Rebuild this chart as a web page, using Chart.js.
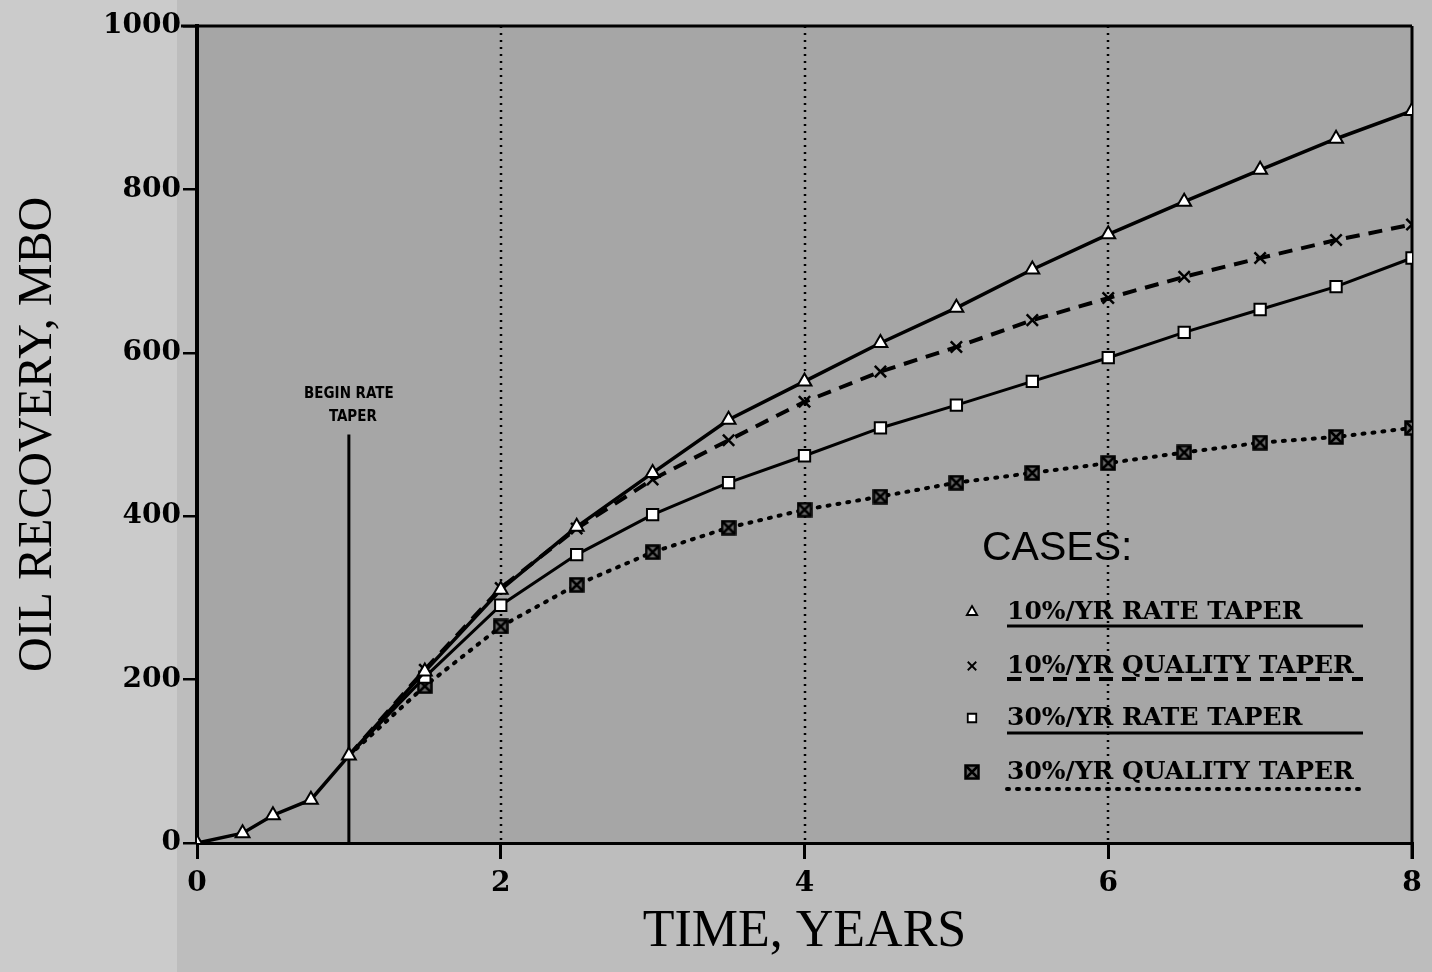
<!DOCTYPE html>
<html>
<head>
<meta charset="utf-8">
<script src="https://cdn.jsdelivr.net/npm/chart.js@4/dist/chart.umd.min.js"></script>
<style>
  html, body { margin: 0; padding: 0; background: #bdbdbd; overflow: hidden; }
  #wrap { width: 1432px; height: 972px; position: relative; }
  canvas { display: block; }
</style>
</head>
<body>
<div id="wrap"><canvas id="c" width="1432" height="972"></canvas></div>
<script>
// Cumulative oil recovery (MBO) versus time (years) for four taper cases
const years = [0, 0.3, 0.5, 0.75, 1, 1.5, 2, 2.5, 3, 3.5, 4, 4.5, 5, 5.5, 6, 6.5, 7, 7.5, 8];
const rateTaper10    = [0, 12, 34, 53, 107, 210, 310, 387, 453, 518, 565, 612, 655, 702, 745, 785, 824, 862, 896];
const qualityTaper10 = [null, null, null, null, 107, 212, 312, 385, 445, 493, 540, 577, 607, 640, 667, 693, 716, 738, 757];
const rateTaper30    = [null, null, null, null, 107, 203, 291, 353, 402, 441, 474, 508, 536, 565, 594, 625, 653, 681, 716];
const qualityTaper30 = [null, null, null, null, 107, 192, 265, 316, 356, 386, 408, 424, 441, 453, 465, 478, 490, 497, 508];

const caseLabels = ['10%/YR RATE TAPER', '10%/YR QUALITY TAPER', '30%/YR RATE TAPER', '30%/YR QUALITY TAPER'];
const xTickValues = [0, 2, 4, 6, 8];
const yTickValues = [0, 200, 400, 600, 800, 1000];
const gridYears = [2, 4, 6];
const taperStartYear = 1;
const taperLineTop = 500;
const taperNote = ['BEGIN RATE', 'TAPER'];

const toPoints = vals => years.map((t, i) => ({ x: t, y: vals[i] }));

// boxed-X marker for the 30%/yr quality taper case
function boxedX(size) {
  const c = document.createElement('canvas');
  c.width = size; c.height = size;
  const g = c.getContext('2d');
  g.fillStyle = '#6a6a6a';
  g.fillRect(1, 1, size - 2, size - 2);
  g.strokeStyle = '#000';
  g.lineWidth = 2.5;
  g.strokeRect(1.5, 1.5, size - 3, size - 3);
  g.beginPath();
  g.moveTo(2, 2); g.lineTo(size - 2, size - 2);
  g.moveTo(size - 2, 2); g.lineTo(2, size - 2);
  g.stroke();
  return c;
}
const boxedMarker = boxedX(16);

// the taper cases share the start-up curve; hide their first (shared) marker
const hideShared = r => ctx => (ctx.dataIndex === 4 ? 0 : r);

const serif = 'DejaVu Serif';

const styles = [
  { pointStyle: 'triangle', borderDash: [], borderWidth: 3.5, pointRadius: 8, pointBackgroundColor: '#ffffff', pointBorderWidth: 2 },
  { pointStyle: 'crossRot', borderDash: [14, 9], borderWidth: 4, pointRadius: hideShared(8), pointBackgroundColor: '#000', pointBorderWidth: 2.5 },
  { pointStyle: 'rect', borderDash: [], borderWidth: 3, pointRadius: hideShared(8), pointBackgroundColor: '#ffffff', pointBorderWidth: 2 },
  { pointStyle: boxedMarker, borderDash: [2, 8], borderWidth: 4, pointRadius: hideShared(8), pointBackgroundColor: '#000', pointBorderWidth: 2 }
];
const seriesValues = [rateTaper10, qualityTaper10, rateTaper30, qualityTaper30];

const datasets = seriesValues.map((vals, i) => Object.assign({
  label: caseLabels[i],
  data: toPoints(vals),
  borderColor: '#000',
  pointBorderColor: '#000',
  borderCapStyle: i === 3 ? 'round' : 'butt',
  fill: false,
  tension: 0,
  spanGaps: false
}, styles[i]));

const decor = {
  id: 'decor',
  beforeDraw(chart) {
    const { ctx, chartArea: a } = chart;
    ctx.save();
    ctx.fillStyle = '#bdbdbd';
    ctx.fillRect(0, 0, chart.width, chart.height);
    ctx.fillStyle = '#cbcbcb';
    ctx.fillRect(0, 0, a.left - 20, chart.height);
    ctx.fillStyle = '#a6a6a6';
    ctx.fillRect(a.left, a.top, a.right - a.left, a.bottom - a.top);
    ctx.restore();
  },
  beforeDatasetsDraw(chart) {
    const { ctx, chartArea: a, scales } = chart;
    ctx.save();
    // dotted year grid
    ctx.strokeStyle = '#000';
    ctx.lineWidth = 2.5;
    ctx.setLineDash([2, 5]);
    gridYears.forEach(t => {
      const x = Math.round(scales.x.getPixelForValue(t));
      ctx.beginPath(); ctx.moveTo(x, a.top); ctx.lineTo(x, a.bottom); ctx.stroke();
    });
    ctx.setLineDash([]);
    // frame: top and right edges
    ctx.lineWidth = 3;
    ctx.beginPath();
    ctx.moveTo(a.left - 16, a.top); ctx.lineTo(a.right, a.top);
    ctx.moveTo(a.right, a.top); ctx.lineTo(a.right, a.bottom + 16);
    ctx.stroke();
    // start of rate taper
    const xs = scales.x.getPixelForValue(taperStartYear);
    ctx.lineWidth = 3;
    ctx.beginPath();
    ctx.moveTo(xs, scales.y.getPixelForValue(taperLineTop));
    ctx.lineTo(xs, scales.y.getPixelForValue(0));
    ctx.stroke();
    ctx.fillStyle = '#000';
    ctx.font = 'bold 15px "DejaVu Sans Condensed", "DejaVu Sans"';
    ctx.textAlign = 'center';
    ctx.textBaseline = 'middle';
    const yt = scales.y.getPixelForValue(taperLineTop);
    ctx.fillText(taperNote[0], xs, yt - 40);
    ctx.fillText(taperNote[1], xs + 4, yt - 17);
    ctx.restore();
  },
  afterDatasetsDraw(chart) {
    const { ctx } = chart;
    const H = Chart.helpers;
    ctx.save();
    ctx.fillStyle = '#000';
    ctx.textBaseline = 'middle';
    ctx.textAlign = 'left';
    ctx.font = '41px "Liberation Sans"';
    ctx.fillText('CASES:', 982, 549);

    const rows = [
      { ty: 612, ly: 626 },
      { ty: 666, ly: 679 },
      { ty: 718, ly: 733 },
      { ty: 772, ly: 789 }
    ];
    const markerX = 972, textX = 1007, lineEnd = 1363;
    rows.forEach((r, i) => {
      const st = styles[i];
      ctx.fillStyle = '#000';
      ctx.font = 'bold 25px "' + serif + '"';
      ctx.fillText(caseLabels[i], textX, r.ty);
      ctx.save();
      ctx.strokeStyle = '#000';
      ctx.fillStyle = typeof st.pointBackgroundColor === 'string' ? st.pointBackgroundColor : '#fff';
      ctx.lineWidth = 1.8;
      H.drawPoint(ctx, { pointStyle: st.pointStyle, radius: 6, rotation: 0, borderWidth: 1.8 }, markerX, r.ty);
      ctx.restore();
      ctx.save();
      ctx.strokeStyle = '#000';
      ctx.lineWidth = i === 3 ? 4 : (i === 1 ? 4 : 3);
      ctx.lineCap = i === 3 ? 'round' : 'butt';
      ctx.setLineDash(st.borderDash);
      ctx.beginPath();
      ctx.moveTo(textX, r.ly); ctx.lineTo(lineEnd, r.ly);
      ctx.stroke();
      ctx.restore();
    });
    ctx.restore();
  }
};

new Chart(document.getElementById('c'), {
  type: 'line',
  data: { datasets },
  plugins: [decor],
  options: {
    responsive: false,
    animation: false,
    devicePixelRatio: 1,
    layout: { padding: { left: 0, top: 26, right: 20, bottom: 0 } },
    plugins: { legend: { display: false }, tooltip: { enabled: false } },
    scales: {
      x: {
        type: 'linear',
        min: 0, max: 8,
        afterBuildTicks: s => { s.ticks = xTickValues.map(v => ({ value: v })); },
        afterFit: s => { s.height = 129; },
        grid: { display: true, drawOnChartArea: false, drawTicks: true, tickLength: 16, color: '#000', lineWidth: 3 },
        border: { display: true, color: '#000', width: 3 },
        ticks: { color: '#000', padding: 8, maxRotation: 0, callback: v => String(v), font: { family: serif, size: 28, weight: 'bold' } },
        title: {
          display: true, text: 'TIME, YEARS', color: '#000',
          font: { family: 'Liberation Serif', size: 52 },
          padding: { top: 0, bottom: 8 }
        }
      },
      y: {
        type: 'linear',
        min: 0, max: 1000,
        afterBuildTicks: s => { s.ticks = yTickValues.map(v => ({ value: v })); },
        afterFit: s => { s.width = 197; },
        grid: { display: true, drawOnChartArea: false, drawTicks: true, tickLength: 14, color: '#000', lineWidth: 2.5 },
        border: { display: true, color: '#000', width: 4 },
        ticks: { color: '#000', padding: 2, callback: v => String(v), font: { family: serif, size: 28, weight: 'bold' } },
        title: {
          display: true, text: 'OIL RECOVERY, MBO', color: '#000',
          font: { family: 'Liberation Serif', size: 48 },
          padding: { top: 10, bottom: 0 }
        }
      }
    }
  }
});
</script>
</body>
</html>
